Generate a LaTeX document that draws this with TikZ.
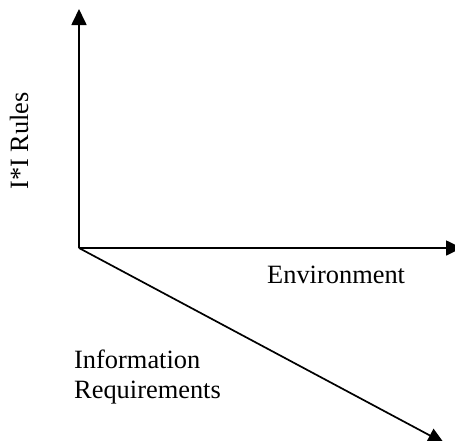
\documentclass[tikz,border=0pt]{standalone}
\usepackage{fontspec}
\setmainfont{Liberation Serif}
\usetikzlibrary{arrows.meta}
\begin{document}
\begin{tikzpicture}[x=1pt,y=-1pt,
  axis/.style={line width=1.7pt,-{Triangle[width=15pt,length=16pt]}},
  lbl/.style={inner sep=0pt,font=\fontsize{26.4}{30}\selectfont}]
\useasboundingbox (0,0) rectangle (455,440);
\coordinate (o) at (79,248);
\coordinate (top) at (79,9);
\coordinate (right) at (462,248);
\coordinate (diag) at (444,443);
\draw[axis] (o) -- (top);
\draw[axis] (o) -- (right);
\draw[axis] (o) -- (diag);
\node[lbl,rotate=90] (rules) at (19,141) {I*I Rules};
\node[lbl,anchor=base west] (env) at (267,283) {Environment};
\node[lbl,anchor=base west,align=left] (info) at (74,398) {Information\\Requirements};
\end{tikzpicture}
\end{document}
